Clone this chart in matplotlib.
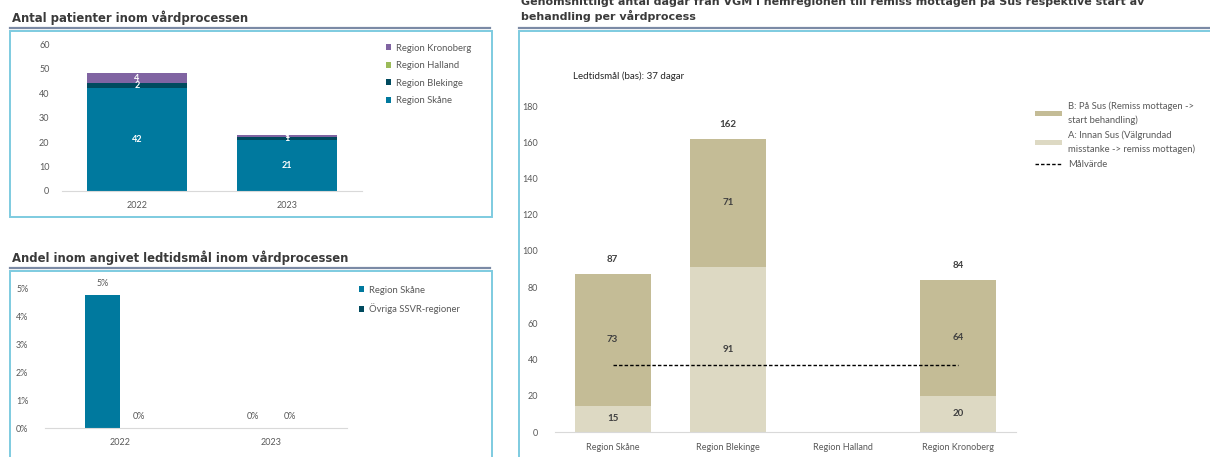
import matplotlib
matplotlib.use('Agg')
import matplotlib.pyplot as plt
import numpy as np
from matplotlib.lines import Line2D
from matplotlib.patches import Rectangle
from matplotlib.ticker import FuncFormatter

plt.rcParams['font.family'] = ['Lato', 'DejaVu Sans']
plt.rcParams['font.size'] = 7

# Data
years = ['2022', '2023']
regions = ['Region Skåne', 'Region Blekinge', 'Region Halland', 'Region Kronoberg']
patients = {
    'Region Skåne': [42, 21],
    'Region Blekinge': [2, 1],
    'Region Halland': [0, 0],
    'Region Kronoberg': [4, 1],
}
share_skane = [0.0476, 0.0]
share_other = [0.0, 0.0]
days_a = [14.6, 91, 0, 20]   # A: Innan Sus
days_b = [72.6, 71, 0, 64]   # B: På Sus
target_days = 37

# Colors
region_colors = {
    'Region Skåne': '#00799e',
    'Region Blekinge': '#004a5e',
    'Region Halland': '#9bbb59',
    'Region Kronoberg': '#8064a2',
}
col_a = '#ddd9c3'
col_b = '#c4bc96'
grey_txt = '#595959'
title_col = '#3a3a3a'
line_col = '#7b8aa5'
box_col = '#7ecbe0'

W, H = 1210, 457
fig = plt.figure(figsize=(W / 100, H / 100), dpi=100)


def frac(x0, y0, x1, y1):
    return [x0 / W, 1 - y1 / H, (x1 - x0) / W, (y1 - y0) / H]


def panel(x0, x1, y_line, y_box, y_bot, title_lines, tsize):
    # title, underline and light blue box
    for ty, t in title_lines:
        fig.text((x0 + 2) / W, 1 - ty / H, t, fontsize=tsize,
                 fontweight='bold', color=title_col, va='center', ha='left',
                 family='DejaVu Sans')
    fig.add_artist(Line2D([x0 / W, x1 / W], [1 - y_line / H] * 2, color=line_col, lw=1.6))
    fig.add_artist(Rectangle((x0 / W, 1 - y_bot / H), (x1 + 2 - x0) / W, (y_bot - y_box) / H,
                             fill=False, edgecolor=box_col, lw=1.4))


def style(ax):
    for s in ['top', 'right', 'left']:
        ax.spines[s].set_visible(False)
    ax.spines['bottom'].set_color('#d9d9d9')
    ax.tick_params(length=0, colors=grey_txt, labelsize=6.5)
    ax.tick_params(axis='y', pad=9)
    ax.tick_params(axis='x', pad=7)


panel(10, 490, 28, 31, 217, [(18, 'Antal patienter inom vårdprocessen')], 8.4)
panel(10, 490, 268, 271, 470, [(258, 'Andel inom angivet ledtidsmål inom vårdprocessen')], 8.4)
panel(519, 1215, 28, 31, 470,
      [(1, 'Genomsnittligt antal dagar från VGM i hemregionen till remiss mottagen på Sus respektive start av'),
       (16, 'behandling per vårdprocess')], 8.0)

# Chart 1: stacked patients
ax1 = fig.add_axes(frac(62, 44, 362, 191))
x = np.arange(len(years))
bottom = np.zeros(len(years))
handles = []
for r in regions:
    vals = np.array(patients[r])
    b = ax1.bar(x, vals, 0.67, bottom=bottom, color=region_colors[r], label=r)
    ax1.bar_label(b, labels=[str(v) if v > 0 else '' for v in vals], label_type='center',
                  color='white', fontweight='bold', fontsize=6.5)
    handles.append(b)
    bottom += vals
ax1.set_xlim(-0.5, 1.5)
ax1.set_ylim(0, 60)
ax1.set_yticks(np.arange(0, 61, 10))
ax1.set_xticks(x, years)
style(ax1)
ax1.legend(handles[::-1], regions[::-1], loc='upper left', bbox_to_anchor=(381 / W, 1 - 39 / H),
           bbox_transform=fig.transFigure, frameon=False, fontsize=6.8, handlelength=0.6,
           handleheight=0.6, handletextpad=0.5, labelspacing=0.9, borderpad=0, labelcolor=grey_txt)

# Chart 2: share within target
ax2 = fig.add_axes(frac(45, 288, 347, 428))
w2 = 0.23
b1 = ax2.bar(x - 0.12, share_skane, w2, color=region_colors['Region Skåne'], label='Region Skåne')
b2 = ax2.bar(x + 0.12, share_other, w2, color='#004a5e', label='Övriga SSVR-regioner')
for b in (b1, b2):
    ax2.bar_label(b, labels=['%.0f%%' % (v * 100) for v in b.datavalues], padding=5,
                  color=grey_txt, fontsize=6.5)
ax2.set_xlim(-0.5, 1.5)
ax2.set_ylim(0, 0.05)
ax2.set_yticks(np.arange(0, 0.051, 0.01))
ax2.yaxis.set_major_formatter(FuncFormatter(lambda v, p: '%d%%' % round(v * 100)))
ax2.set_xticks(x, years)
style(ax2)
ax2.tick_params(axis='y', pad=12)
ax2.legend(loc='upper left', bbox_to_anchor=(354 / W, 1 - 281 / H), bbox_transform=fig.transFigure,
           frameon=False, fontsize=6.8, handlelength=0.6, handleheight=0.6, handletextpad=0.5,
           labelspacing=0.9, borderpad=0, labelcolor=grey_txt)

# Chart 3: days per region
ax3 = fig.add_axes(frac(555, 106, 1016, 432))
x3 = np.arange(len(regions))
ba = ax3.bar(x3, days_a, 0.66, color=col_a, label='A: Innan Sus (Välgrundad\nmisstanke -> remiss mottagen)')
bb = ax3.bar(x3, days_b, 0.66, bottom=days_a, color=col_b,
             label='B: På Sus (Remiss mottagen ->\nstart behandling)')
for b in (ba, bb):
    ax3.bar_label(b, labels=['%.0f' % v if v > 0 else '' for v in b.datavalues], label_type='center',
                  color='#404040', fontweight='bold', fontsize=7)
totals = np.array(days_a) + np.array(days_b)
ax3.bar_label(bb, labels=['%.0f' % v if v > 0 else '' for v in totals], padding=7,
              color='#404040', fontweight='bold', fontsize=7)
tl, = ax3.plot([x3[0], x3[-1]], [target_days, target_days], color='black', lw=1,
               linestyle=(0, (2.5, 1.5)), label='Målvärde')
ax3.set_xlim(-0.5, 3.5)
ax3.set_ylim(0, 180)
ax3.set_yticks(np.arange(0, 181, 20))
ax3.set_xticks(x3, regions)
style(ax3)
ax3.tick_params(axis='y', pad=12)
ax3.tick_params(axis='x', pad=8)
leg3 = ax3.legend([bb, ba, tl], [bb.get_label(), ba.get_label(), 'Målvärde'], loc='upper left',
                  bbox_to_anchor=(1030 / W, 1 - 97 / H), bbox_transform=fig.transFigure, frameon=False,
                  fontsize=6.8, handlelength=2.9, handleheight=0.5, handletextpad=0.6, labelspacing=0.6,
                  borderpad=0, labelcolor=grey_txt)
for t in leg3.get_texts():
    t.set_linespacing(1.55)
fig.text(573 / W, 1 - 76 / H, 'Ledtidsmål (bas): %d dagar' % target_days, fontsize=7,
         color='#262626', va='center', ha='left')

fig.savefig('out.png', dpi=100)
